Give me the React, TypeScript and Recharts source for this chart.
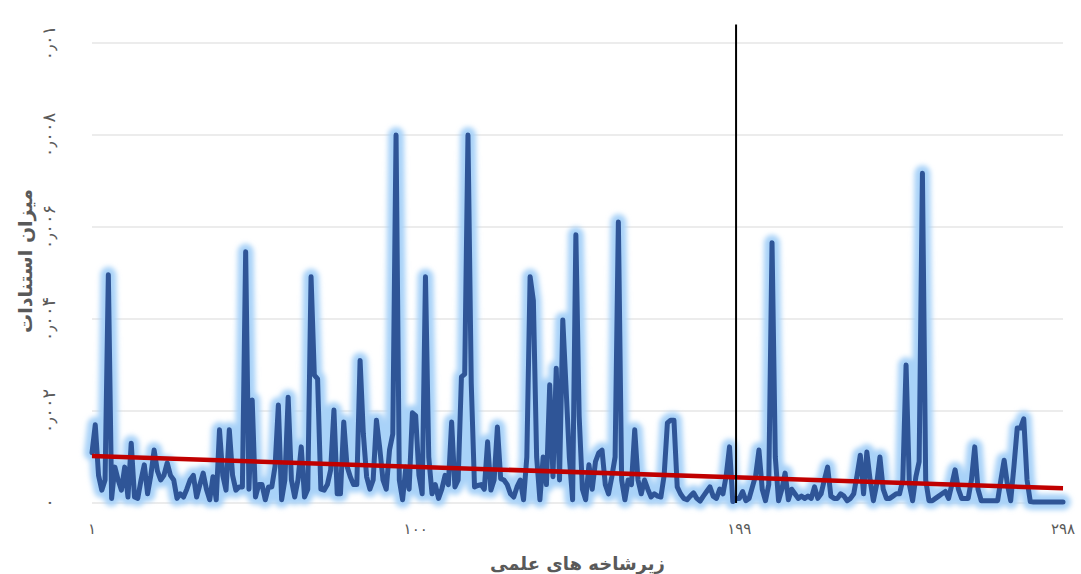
import { CartesianGrid, Label, Line, LineChart, ReferenceLine, XAxis, YAxis } from 'recharts';

// citation rate per subfield, subfields 1..298
const citationRates = [
  0.00109, 0.0017, 0.0006, 0.00028, 0.0005, 0.00496, 0.0001, 0.00078, 0.0005, 0.00028,
  0.00078, 0.00013, 0.0013, 0.00013, 0.0001, 0.0005, 0.00083, 0.0002, 0.0006, 0.00115,
  0.0007, 0.0005, 0.0006, 0.00087, 0.0006, 0.0005, 0.0001, 0.0002, 0.00013, 0.0003,
  0.0005, 0.0006, 0.00013, 0.0004, 0.00065, 0.0003, 0.00007, 0.00057, 0.00007, 0.00159,
  0.0006, 0.00028, 0.00159, 0.0006, 0.00028, 0.00035, 0.00035, 0.00546, 0.0003, 0.00224,
  0.00013, 0.0004, 0.0004, 0.00007, 0.00035, 0.00035, 0.0008, 0.00213, 0.00007, 0.0005,
  0.0023, 0.0005, 0.00013, 0.0005, 0.00122, 0.00013, 0.0003, 0.00492, 0.00278, 0.0027,
  0.0003, 0.00028, 0.0004, 0.00072, 0.00202, 0.0002, 0.0002, 0.00176, 0.0008, 0.00057,
  0.0004, 0.0004, 0.0031, 0.0015, 0.00057, 0.0003, 0.0005, 0.0018, 0.0012, 0.0005,
  0.0003, 0.00115, 0.0015, 0.008, 0.0005, 0.00007, 0.00078, 0.0003, 0.00196, 0.0019,
  0.0006, 0.0002, 0.00492, 0.001, 0.0002, 0.0004, 0.0001, 0.0003, 0.0006, 0.0004,
  0.00176, 0.00035, 0.0005, 0.00274, 0.0028, 0.008, 0.0026, 0.00035, 0.00038, 0.0004,
  0.0003, 0.00133, 0.00028, 0.0005, 0.00165, 0.00053, 0.0005, 0.0004, 0.0002, 0.00013,
  0.00035, 0.0005, 0.00007, 0.001, 0.00492, 0.0044, 0.001, 0.00007, 0.001, 0.0004,
  0.00257, 0.00057, 0.00293, 0.0005, 0.00398, 0.0025, 0.001, 0.00007, 0.00583, 0.0019,
  0.0003, 0.00007, 0.00083, 0.0003, 0.0009, 0.00109, 0.00115, 0.0004, 0.0002, 0.00057,
  0.001, 0.00611, 0.0005, 0.00007, 0.0005, 0.0004, 0.00159, 0.0005, 0.0002, 0.0005,
  0.0003, 0.00013, 0.0002, 0.00015, 0.00013, 0.0006, 0.00174, 0.0018, 0.0018, 0.00035,
  0.0002, 0.0001, 0.00007, 0.00015, 0.00022, 0.0001, 0.00004, 0.00015, 0.00025, 0.00035,
  0.00015, 0.0001, 0.0003, 0.0002, 0.0006, 0.00122, 0.00003, 0.0001, 0.0001, 0.00025,
  0.00005, 0.0001, 0.00035, 0.0006, 0.00115, 0.0003, 0.00005, 0.0004, 0.00566, 0.001,
  0.00005, 0.0003, 0.00065, 0.00007, 0.0003, 0.0002, 0.0001, 0.00015, 0.0001, 0.00015,
  0.0001, 0.00035, 0.0001, 0.0002, 0.0005, 0.00078, 0.00015, 0.0001, 0.0001, 0.0002,
  0.00015, 0.00005, 0.0001, 0.0002, 0.0006, 0.00104, 0.0002, 0.00111, 0.0005, 0.00005,
  0.0004, 0.001, 0.0003, 0.0001, 0.0001, 0.00015, 0.0002, 0.0002, 0.0005, 0.003,
  0.0004, 0.00005, 0.00057, 0.0009, 0.00717, 0.0005, 0.00005, 0.00005, 0.0001, 0.00015,
  0.0002, 0.00025, 0.0001, 0.0004, 0.00072, 0.0003, 0.0001, 0.0001, 0.0001, 0.0005,
  0.00122, 0.0003, 0.00005, 0.00005, 0.00005, 0.00005, 0.00005, 0.00005, 0.0005, 0.00093,
  0.0004, 0.00005, 0.0008, 0.00163, 0.00163, 0.00183, 0.0005, 0.00003, 0.00002, 0.00002,
  0.00002, 0.00002, 0.00002, 0.00002, 0.00002, 0.00002, 0.00002, 0.00002,
];

// linear trend line end values
const trendStart = 0.00102;
const trendEnd = 0.00032;

// vertical marker line position (subfield index)
const markerSubfield = 198;

const xTicks = [1, 100, 199, 298];
const xTickLabels = ['۱', '۱۰۰', '۱۹۹', '۲۹۸'];
const yTicks = [0, 0.002, 0.004, 0.006, 0.008, 0.01];
const yTickLabels = ['۰', '۰٫۰۰۲', '۰٫۰۰۴', '۰٫۰۰۶', '۰٫۰۰۸', '۰٫۰۱'];

const xTitle = 'زیرشاخه های علمی';
const yTitle = 'میزان استنادات';

const data = citationRates.map((rate, i) => ({
  subfield: i + 1,
  rate,
  trend: i === 0 ? trendStart : i === citationRates.length - 1 ? trendEnd : null,
}));

const FONT = '"DejaVu Sans", sans-serif';
const TEXT_COLOR = '#595959';

const XTick = ({ x, y, payload }: any) => {
  const idx = xTicks.indexOf(payload.value);
  return (
    <text x={x} y={y + 18} textAnchor="middle" dominantBaseline="central" fill={TEXT_COLOR} fontSize={15} fontFamily={FONT}>
      {xTickLabels[idx]}
    </text>
  );
};

const YTick = ({ y, payload }: any) => {
  const idx = yTicks.findIndex((t) => Math.abs(t - payload.value) < 1e-9);
  return (
    <text
      x={48}
      y={y}
      transform={`rotate(-90 48 ${y})`}
      textAnchor="middle"
      dominantBaseline="central"
      fill={TEXT_COLOR}
      fontSize={18}
      style={{ letterSpacing: '4px' }}
      fontFamily={FONT}
    >
      {yTickLabels[idx]}
    </text>
  );
};

const YTitle = ({ viewBox }: any) => {
  const cx = 25;
  const cy = viewBox.y + viewBox.height / 2 - 12;
  return (
    <text x={cx} y={cy} transform={`rotate(-90 ${cx} ${cy})`} textAnchor="middle" dominantBaseline="central" fill={TEXT_COLOR} fontSize={19} fontWeight="bold" fontFamily={FONT}>
      {yTitle}
    </text>
  );
};

const XTitle = ({ viewBox }: any) => (
  <text x={viewBox.x + viewBox.width / 2} y={viewBox.y + 60} textAnchor="middle" dominantBaseline="central" fill={TEXT_COLOR} fontSize={18} fontWeight="bold" fontFamily={FONT}>
    {xTitle}
  </text>
);

export default function App() {
  return (
    <div style={{ width: 1081, height: 574, background: '#fff' }}>
      <style>{'body{margin:0}'}</style>
      <LineChart width={1081} height={574} data={data} margin={{ top: 43, right: 18, bottom: 0, left: 0 }}>
        <defs>
          <filter id="glow" x="-10%" y="-10%" width="120%" height="120%">
            <feGaussianBlur stdDeviation="2.6" />
          </filter>
        </defs>
        <CartesianGrid vertical={false} stroke="#D9D9D9" strokeWidth={1} />
        <XAxis
          dataKey="subfield"
          type="number"
          domain={[1, 298]}
          ticks={xTicks}
          interval={0}
          axisLine={false}
          tickLine={false}
          height={71}
          tick={<XTick />}
        >
          <Label content={<XTitle />} />
        </XAxis>
        <YAxis
          type="number"
          domain={[0, 0.01]}
          ticks={yTicks}
          interval={0}
          axisLine={false}
          tickLine={false}
          width={92}
          tick={<YTick />}
        >
          <Label content={<YTitle />} />
        </YAxis>
        <Line
          type="linear"
          dataKey="rate"
          stroke="#A8D2F8"
          strokeWidth={16}
          strokeLinejoin="round"
          strokeLinecap="round"
          filter="url(#glow)"
          dot={false}
          activeDot={false}
          isAnimationActive={false}
        />
        <Line
          type="linear"
          dataKey="rate"
          stroke="#2F5597"
          strokeWidth={5}
          strokeLinejoin="round"
          strokeLinecap="round"
          dot={false}
          activeDot={false}
          isAnimationActive={false}
        />
        <Line
          type="linear"
          dataKey="trend"
          stroke="#C00000"
          strokeWidth={4.5}
          connectNulls
          dot={false}
          activeDot={false}
          isAnimationActive={false}
        />
        <ReferenceLine
          segment={[{ x: markerSubfield, y: 0 }, { x: markerSubfield, y: 0.0104 }]}
          stroke="#000"
          strokeWidth={2}
          ifOverflow="visible"
        />
      </LineChart>
    </div>
  );
}
